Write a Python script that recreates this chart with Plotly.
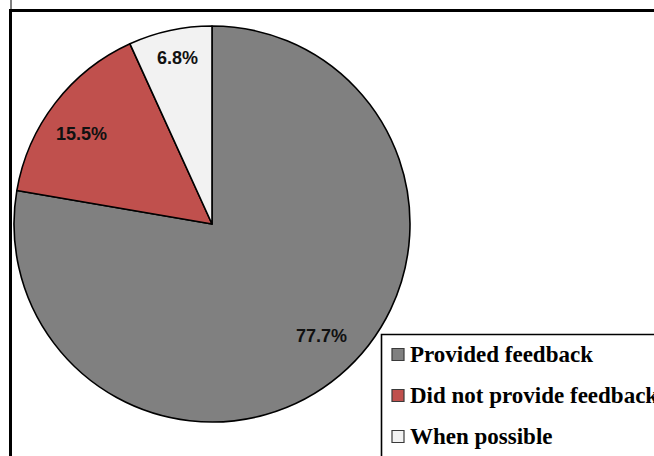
import math
import plotly.graph_objects as go

# Survey responses
categories = ["Provided feedback", "Did not provide feedback", "When possible"]
shares = [77.7, 15.5, 6.8]

# Styling
slice_colors = ["#808080", "#C0504D", "#F2F2F2"]
label_radius = [0.79, 0.80, 0.856]      # label distance as fraction of the radius
label_turn = [-4.3, -3.1, 0.6]          # small angular nudge of each label (degrees)

W, H = 654, 456
CX, CY, R = 212, 224, 198               # pie centre and radius in pixels


def px(x):
    return x / W


def py(y):
    return 1 - y / H


fig = go.Figure()

fig.add_trace(go.Pie(
    labels=categories,
    values=shares,
    sort=False,
    direction="clockwise",
    rotation=0,
    marker=dict(colors=slice_colors, line=dict(color="#000000", width=1.6)),
    textinfo="none",
    hoverinfo="label+percent",
    showlegend=False,
    domain=dict(x=[px(CX - R), px(CX + R)], y=[py(CY + R), py(CY - R)]),
))

annotations = []
shapes = []

# Percentage labels placed around each slice's mid-angle
total = sum(shares)
start = 0.0
for i, v in enumerate(shares):
    frac = v / total
    theta = math.radians(360 * (start + frac / 2) + label_turn[i])
    start += frac
    r = R * label_radius[i]
    lx = CX + r * math.sin(theta)
    ly = CY - r * math.cos(theta)
    annotations.append(dict(
        x=px(lx), y=py(ly), xref="paper", yref="paper",
        text=f"{v:.1f}%", showarrow=False,
        xanchor="center", yanchor="middle",
        font=dict(family="Liberation Sans, Arial, sans-serif", size=18,
                  color="#111111", weight="bold"),
    ))

# Chart-area frame
shapes.append(dict(type="line", xref="paper", yref="paper",
                   x0=px(11), x1=px(11), y0=py(0), y1=py(10),
                   line=dict(color="#000000", width=1)))
shapes.append(dict(type="line", xref="paper", yref="paper",
                   x0=px(10.5), x1=px(10.5), y0=py(9), y1=py(460),
                   line=dict(color="#000000", width=3)))
shapes.append(dict(type="line", xref="paper", yref="paper",
                   x0=px(9), x1=px(660), y0=py(10.5), y1=py(10.5),
                   line=dict(color="#000000", width=3)))

# Legend box
shapes.append(dict(type="rect", xref="paper", yref="paper",
                   x0=px(381.5), x1=px(700), y0=py(334.5), y1=py(520),
                   line=dict(color="#000000", width=1.6),
                   fillcolor="#FFFFFF", layer="above"))

# Legend entries
row_y = [354.5, 395.5, 436.5]
for i, name in enumerate(categories):
    y = row_y[i]
    shapes.append(dict(type="rect", xref="paper", yref="paper",
                       x0=px(392), x1=px(404), y0=py(y + 6), y1=py(y - 6),
                       line=dict(color="#3A3A3A", width=1.2),
                       fillcolor=slice_colors[i], layer="above"))
    annotations.append(dict(
        x=px(408), y=py(y), xref="paper", yref="paper",
        text=name, showarrow=False,
        xanchor="left", yanchor="middle",
        font=dict(family="Liberation Serif, Times New Roman, serif", size=23,
                  color="#000000", weight="bold"),
    ))

fig.update_layout(
    width=W, height=H,
    margin=dict(l=0, r=0, t=0, b=0),
    paper_bgcolor="#FFFFFF",
    plot_bgcolor="#FFFFFF",
    annotations=annotations,
    shapes=shapes,
)

fig.write_html("out.html")
